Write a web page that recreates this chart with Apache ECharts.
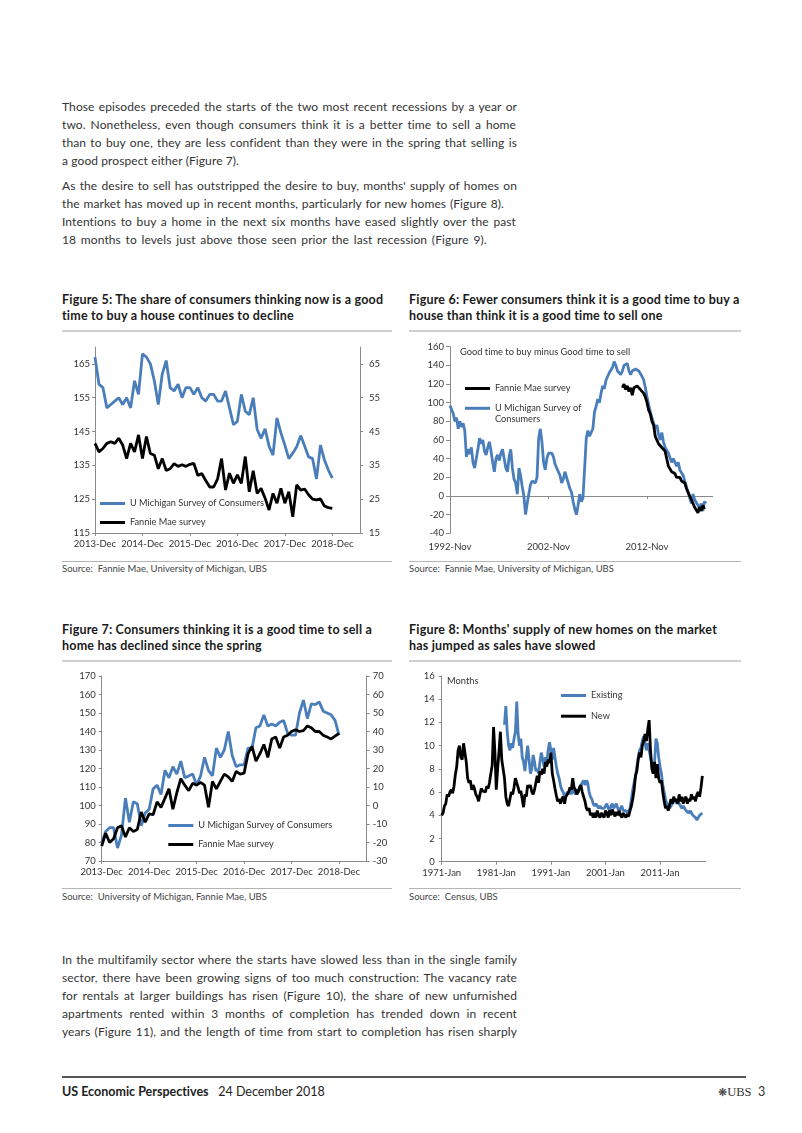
<!DOCTYPE html>
<html><head><meta charset="utf-8">
<script src="https://cdn.jsdelivr.net/npm/echarts@6/dist/echarts.min.js"></script>
<style>
html,body{margin:0;padding:0;background:#fff;}
#page{position:relative;width:802px;height:1133px;overflow:hidden;font-family:Lato,"Open Sans",sans-serif;color:#333;font-variant-ligatures:none;}
.t{position:absolute;white-space:nowrap;}
.body{left:62px;font-size:12px;line-height:18px;height:18px;color:#333;letter-spacing:0.1px;}
.j{text-align:justify;text-align-last:justify;}
.title{font-weight:bold;font-size:12.5px;line-height:16px;color:#1a1a1a;letter-spacing:0.2px;}
.src{font-size:9.5px;line-height:12px;color:#444;white-space:pre;}
.rule{position:absolute;}
.chart{position:absolute;}
</style></head>
<body><div id="page">
<div class="t body j" style="top:98px;width:455px">Those episodes preceded the starts of the two most recent recessions by a year or</div>
<div class="t body j" style="top:116px;width:454px">two. Nonetheless, even though consumers think it is a better time to sell a home</div>
<div class="t body j" style="top:134px;width:455px">than to buy one, they are less confident than they were in the spring that selling is</div>
<div class="t body" style="top:152px">a good prospect either (Figure 7).</div>
<div class="t body j" style="top:177px;width:455px">As the desire to sell has outstripped the desire to buy, months' supply of homes on</div>
<div class="t body j" style="top:195px;width:442px">the market has moved up in recent months, particularly for new homes (Figure 8).</div>
<div class="t body j" style="top:213px;width:454px">Intentions to buy a home in the next six months have eased slightly over the past</div>
<div class="t body" style="top:231px;word-spacing:1.5px">18 months to levels just above those seen prior the last recession (Figure 9).</div>

<div class="t title" style="left:62px;top:292px">Figure 5: The share of consumers thinking now is a good<br>time to buy a house continues to decline</div>
<div class="t title" style="left:409px;top:292px">Figure 6: Fewer consumers think it is a good time to buy a<br>house than think it is a good time to sell one</div>
<div class="rule" style="left:62px;top:330px;width:330px;height:2px;background:#cfcfcf"></div>
<div class="rule" style="left:409px;top:330px;width:332px;height:2px;background:#cfcfcf"></div>
<div class="rule" style="left:62px;top:561px;width:330px;height:1px;background:#b5b5b5"></div>
<div class="rule" style="left:409px;top:561px;width:332px;height:1px;background:#b5b5b5"></div>
<div class="t src" style="left:62px;top:563px">Source:  Fannie Mae, University of Michigan, UBS</div>
<div class="t src" style="left:409px;top:563px">Source:  Fannie Mae, University of Michigan, UBS</div>

<div class="t title" style="left:62px;top:622px">Figure 7: Consumers thinking it is a good time to sell a<br>home has declined since the spring</div>
<div class="t title" style="left:409px;top:622px">Figure 8: Months' supply of new homes on the market<br>has jumped as sales have slowed</div>
<div class="rule" style="left:62px;top:660px;width:330px;height:2px;background:#cfcfcf"></div>
<div class="rule" style="left:409px;top:660px;width:332px;height:2px;background:#cfcfcf"></div>
<div class="rule" style="left:62px;top:888px;width:330px;height:1px;background:#b5b5b5"></div>
<div class="rule" style="left:409px;top:888px;width:332px;height:1px;background:#b5b5b5"></div>
<div class="t src" style="left:62px;top:891px">Source:  University of Michigan, Fannie Mae, UBS</div>
<div class="t src" style="left:409px;top:891px">Source:  Census, UBS</div>

<div class="t body j" style="top:951px;width:455px">In the multifamily sector where the starts have slowed less than in the single family</div>
<div class="t body j" style="top:969px;width:455px">sector, there have been growing signs of too much construction: The vacancy rate</div>
<div class="t body j" style="top:987px;width:455px">for rentals at larger buildings has risen (Figure 10), the share of new unfurnished</div>
<div class="t body j" style="top:1005px;width:455px">apartments rented within 3 months of completion has trended down in recent</div>
<div class="t body j" style="top:1023px;width:455px">years (Figure 11), and the length of time from start to completion has risen sharply</div>

<div class="rule" style="left:62px;top:1076px;width:684px;height:2px;background:#555"></div>
<div class="t" style="left:62px;top:1084px;font-size:12.5px;line-height:16px;color:#222"><b>US Economic Perspectives</b>&nbsp;&nbsp;&nbsp;24 December 2018</div>
<div class="t" style="left:718px;top:1084px;font-size:12.5px;line-height:16px;color:#333"><span style="font-family:'DejaVu Sans';font-size:11px">❋</span><span style="font-family:'Liberation Serif',serif">UBS</span>&nbsp;&nbsp;3</div>

<div id="c5" class="chart" style="left:40px;top:335px;width:360px;height:225px"></div>
<div id="c6" class="chart" style="left:405px;top:335px;width:345px;height:225px"></div>
<div id="c7" class="chart" style="left:40px;top:665px;width:360px;height:222px"></div>
<div id="c8" class="chart" style="left:405px;top:665px;width:345px;height:222px"></div>
</div>
<script>
// ---------- DATA ----------
// Figure 5 (monthly, index 0 = 2013-Dec)
const fig5TickMonths = [0, 12, 24, 36, 48, 60];
const fig5TickLabels = ['2013-Dec', '2014-Dec', '2015-Dec', '2016-Dec', '2017-Dec', '2018-Dec'];
const fig5LeftTicks = [115, 125, 135, 145, 155, 165];
const fig5RightTicks = [15, 25, 35, 45, 55, 65];
const fig5Michigan = [
  167, 159, 158, 152, 153, 154, 155, 153, 155, 152, 160, 156,
  168, 167, 165, 160, 153, 162, 166, 158, 157, 159, 155, 158,
  158, 156, 158, 155, 154, 156, 156, 154, 154, 157, 152, 147,
  148, 156, 151, 150, 155, 145.6, 143, 145.8, 140.7, 138, 149, 144.6,
  141, 137, 138.6, 140.5, 143.8, 140.7, 137.5, 137, 131, 141, 136.6, 133.6,
  131.2
];
const fig5Fannie = [
  41.5, 39, 40, 41.5, 42, 41.5, 43, 41, 37, 41.5, 39, 44,
  37, 43.5, 38.5, 38, 34, 37, 33.5, 34, 35.5, 34.7, 35.2, 34.7,
  35.3, 35.6, 32, 32.6, 30.5, 28.6, 28.6, 31, 37, 27.7, 32.7, 29.7,
  32.2, 29.7, 37.6, 27.2, 33.4, 26.7, 28.2, 25.3, 21.8, 26.7, 23.8, 28.2,
  23.8, 27.2, 19.8, 29.2, 27.7, 28, 26.3, 25, 24.8, 25.1, 23, 22.5,
  22.3
];

// Figure 6 (index = months since 1992-Nov)
const fig6TickMonths = [0, 120, 240];
const fig6TickLabels = ['1992-Nov', '2002-Nov', '2012-Nov'];
const fig6MichiganStart = 0, fig6MichiganStep = 2;
const fig6Michigan = [
  97, 95, 88, 80, 84, 72, 80, 74, 78, 70,
  42, 50, 45, 52, 36, 30, 28, 50, 62, 56,
  60, 48, 44, 52, 58, 48, 36, 26, 40, 44,
  38, 46, 50, 40, 30, 26, 42, 50, 30, 18,
  14, 2, 30, 22, 10, 0, -20, -8, 2, 12,
  16, 18, 14, 20, 62, 72, 58, 36, 28, 40,
  46, 44, 46, 42, 34, 30, 26, 22, 14, 18,
  26, 20, 22, 8, 4, -6, -14, -20, -10, 2,
  -6, -2, 30, 62, 70, 64, 68, 72, 90, 96,
  104, 100, 110, 118, 115, 124, 128, 132, 130, 138,
  144, 140, 134, 136, 130, 134, 140, 138, 142, 134,
  130, 134, 132, 136, 138, 134, 132, 128, 124, 116,
  106, 98, 90, 84, 78, 72, 76, 66, 60, 68,
  58, 52, 54, 46, 44, 36, 40, 38, 32, 36,
  28, 26, 22, 16, 10, 4, -2, -8, 2, -4,
  -2, -10, -14, -8, -16, -6, -8
];
const fig6FannieStart = 210, fig6FannieStep = 2;
const fig6Fannie = [
  116, 120, 114, 118, 112, 116, 108, 116, 114, 118,
  116, 114, 116, 110, 106, 100, 92, 88, 80, 76,
  64, 60, 56, 58, 52, 50, 48, 40, 32, 30,
  26, 28, 24, 20, 18, 20, 16, 18, 14, 8,
  4, 0, -4, -8, -12, -14, -18, -12, -16, -10,
  -14
];

// Figure 7 (monthly, index 0 = 2013-Dec)
const fig7Michigan = [
  80, 86, 88, 88, 77, 84, 104, 91, 102, 101, 89, 96,
  98, 109, 111, 106, 119, 115, 121, 117, 124, 115, 116, 117,
  111, 116, 126, 119, 116, 131, 126, 130, 140, 127, 121, 122,
  122, 131, 131, 142, 143, 149, 143, 144, 143, 145, 146, 139,
  138, 138, 150, 157, 147, 155, 154.5, 156, 151, 150, 149, 146,
  138
];
const fig7Fannie = [
  -22, -15, -20, -18, -12, -11, -17, -12, -14, -13, -3.5, -9,
  -4.5, -5, 2, -1, 4, 9, -2, 7, 14.5, 11, 8, 12,
  11, 12.5, 11, -1, 13, 9, 13, 17, 15.5, 13, 18.5, 17,
  17.5, 28, 32, 24, 28, 33, 26, 36, 37, 31, 37, 38,
  40, 41, 40, 40.5, 43, 42, 40, 40, 38, 37, 36, 37.5,
  39
];
const fig7LeftTicks = [70, 80, 90, 100, 110, 120, 130, 140, 150, 160, 170];
const fig7RightTicks = [-30, -20, -10, 0, 10, 20, 30, 40, 50, 60, 70];

// Figure 8 (index = months since 1971-Jan, quarterly readings)
const fig8TickMonths = [0, 120, 240, 360, 480];
const fig8TickLabels = ['1971-Jan', '1981-Jan', '1991-Jan', '2001-Jan', '2011-Jan'];
const fig8NewStart = 0, fig8NewStep = 3;
const fig8New = [
  4.0, 4.2, 4.8, 5.0, 5.8, 5.6, 6.0, 6.2,
  5.9, 6.5, 7.5, 8.2, 9.6, 10.0, 9.0, 8.8,
  10.2, 10.3, 8.6, 7.2, 6.8, 7.0, 6.2, 6.6,
  6.3, 5.8, 5.6, 5.2, 5.8, 6.3, 6.1, 6.2,
  6.0, 6.5, 6.3, 6.8, 7.6, 8.3, 11.6, 9.4,
  6.2, 8.0, 9.5, 11.2, 8.8, 8.0, 7.2, 5.6,
  5.0, 4.8, 5.4, 6.0, 5.8, 6.4, 7.2, 6.8,
  6.4, 5.9, 6.1, 5.4, 4.7, 5.8, 5.6, 6.6,
  6.4, 6.6, 6.0, 5.8, 6.2, 6.8, 7.4, 6.8,
  7.8, 7.5, 8.0, 7.6, 8.6, 8.2, 8.8, 8.5,
  9.4, 7.6, 7.0, 6.3, 5.7, 5.2, 5.4, 5.0,
  5.4, 5.6, 5.0, 5.6, 5.8, 6.0, 6.4, 6.2,
  7.2, 6.4, 6.2, 5.8, 6.0, 6.4, 6.6, 6.0,
  5.6, 5.2, 4.6, 4.4, 4.6, 4.0, 4.2, 3.8,
  4.2, 3.8, 4.4, 4.0, 3.8, 4.2, 4.0, 3.8,
  4.4, 4.2, 3.8, 4.4, 4.0, 4.5, 4.2, 3.9,
  4.3, 4.0, 4.4, 4.0, 3.8, 4.2, 4.0, 3.8,
  4.1, 3.9, 4.4, 4.8, 5.4, 6.2, 7.4, 7.8,
  8.8, 9.4, 9.0, 10.0, 10.4, 11.0, 10.4, 11.4,
  12.2, 9.6, 8.0, 7.6, 8.6, 7.2, 8.4, 7.2,
  6.8, 7.0, 6.0, 5.2, 4.6, 4.8, 4.4, 4.9,
  5.4, 5.0, 5.6, 5.2, 5.4, 5.0, 5.8, 5.2,
  5.6, 5.0, 5.4, 5.6, 5.0, 5.4, 5.2, 5.8,
  5.4, 5.6, 5.2, 5.8, 6.0, 5.6, 6.4, 7.4
];
const fig8ExistingStart = 138, fig8ExistingStep = 3;
const fig8Existing = [
  11.8, 13.4, 11.2, 10.0, 9.6, 10.2, 9.8, 10.6,
  11.2, 13.8, 11.0, 10.0, 10.6, 9.0, 8.6, 7.8,
  9.0, 10.0, 8.8, 7.6, 8.0, 9.2, 8.6, 7.8,
  8.0, 7.6, 8.6, 9.4, 8.8, 8.2, 9.0, 8.6,
  9.6, 10.3, 9.6, 8.8, 9.8, 9.0, 8.2, 7.6,
  7.2, 6.6, 6.2, 6.0, 5.6, 5.8, 6.0, 5.8,
  6.2, 5.8, 6.4, 6.0, 5.8, 6.2, 6.0, 6.4,
  6.6, 6.8, 7.0, 6.6, 7.0, 6.8, 6.0, 5.6,
  5.4, 5.0, 4.8, 5.0, 4.8, 4.6, 4.8, 4.6,
  4.5, 4.6, 4.8, 5.0, 4.6, 4.4, 4.8, 5.0,
  4.6, 4.8, 5.0, 4.6, 4.4, 4.6, 4.8, 4.4,
  4.3, 4.4, 4.2, 4.4, 4.6, 5.4, 6.2, 6.8,
  7.4, 8.2, 9.0, 9.6, 9.8, 10.4, 10.8, 10.2,
  9.6, 10.2, 9.6, 9.0, 8.4, 7.6, 8.6, 10.6,
  10.2, 9.0, 8.2, 7.6, 6.6, 6.0, 5.4, 5.0,
  4.8, 4.6, 4.8, 5.0, 5.2, 5.4, 5.0, 5.2,
  5.0, 4.8, 4.6, 4.8, 4.6, 4.4, 4.5, 4.2,
  4.4, 4.2, 4.0, 4.0, 3.8, 3.6, 3.8, 4.0,
  4.1, 4.2
];
const fig8YTicks = [0, 2, 4, 6, 8, 10, 12, 14, 16];

// ---------- STYLE ----------
const FONT = 'Lato, "Open Sans", sans-serif';
const AX = '#8a8a8a';
const TXT = '#333';
const BLUE = '#4A7EBB';
const BLACK = '#000000';
const LBL = { color: TXT, fontSize: 9.5, fontFamily: FONT };
const LEG = { color: TXT, fontSize: 9.2, fontFamily: FONT };

function pairs(arr, start, step) { return arr.map((v, i) => [start + i * step, v]); }
function lineSeries(name, data, color, yIdx) {
  return { type: 'line', name: name, data: data, yAxisIndex: yIdx || 0, symbol: 'none', showSymbol: false,
    color: color, lineStyle: { width: 2.8, color: color }, itemStyle: { color: color }, silent: true, z: 3 };
}
function legendItem(name, left, top, extra) {
  return Object.assign({ data: [name], left: left, top: top, orient: 'vertical', icon: 'rect', itemWidth: 25, itemHeight: 3,
    padding: 0, itemGap: 0, selectedMode: false, textStyle: Object.assign({}, LEG) }, extra || {});
}
function xValueAxis(max, ticks, labels, extra, margin) {
  return Object.assign({ type: 'value', min: 0, max: max, position: 'bottom',
    axisLine: { show: true, onZero: false, lineStyle: { color: AX, width: 1 } },
    axisTick: { show: true, customValues: ticks, length: 3, lineStyle: { color: AX } },
    axisLabel: Object.assign({ customValues: ticks, margin: margin || 6, formatter: v => labels[ticks.indexOf(v)] || '' }, LBL),
    splitLine: { show: false } }, extra || {});
}
function yValueAxis(min, max, ticks, pos, margin) {
  return { type: 'value', min: min, max: max, position: pos,
    axisLine: { show: true, onZero: false, lineStyle: { color: AX, width: 1 } },
    axisTick: { show: true, customValues: ticks, length: 3, lineStyle: { color: AX } },
    axisLabel: Object.assign({ customValues: ticks, margin: margin }, LBL),
    splitLine: { show: false } };
}

// ---------- FIGURE 5 ----------
const c5 = echarts.init(document.getElementById('c5'), null, { renderer: 'canvas' });
c5.setOption({
  animation: false,
  grid: { left: 55, top: 12, width: 265, height: 186 },
  xAxis: xValueAxis(67, fig5TickMonths, fig5TickLabels),
  yAxis: [yValueAxis(115, 170, fig5LeftTicks, 'left', 5), yValueAxis(15, 70, fig5RightTicks, 'right', 9)],
  legend: [legendItem('U Michigan Survey of Consumers', 60, 164), legendItem('Fannie Mae survey', 60, 183)],
  series: [
    lineSeries('U Michigan Survey of Consumers', pairs(fig5Michigan, 0, 1), BLUE, 0),
    lineSeries('Fannie Mae survey', pairs(fig5Fannie, 0, 1), BLACK, 1)
  ]
});

// ---------- FIGURE 6 ----------
const c6 = echarts.init(document.getElementById('c6'), null, { renderer: 'canvas' });
c6.setOption({
  animation: false,
  grid: { left: 45, top: 11.7, width: 262.7, height: 186.6 },
  xAxis: [
    xValueAxis(320, fig6TickMonths, fig6TickLabels, { axisLine: { show: false, onZero: false }, axisTick: { show: false } }, 9),
    { type: 'value', min: 0, max: 320, position: 'bottom',
      axisLine: { show: true, onZero: true, lineStyle: { color: AX, width: 1 } },
      axisTick: { show: true, customValues: fig6TickMonths, length: 3, lineStyle: { color: AX } },
      axisLabel: { show: false }, splitLine: { show: false } }
  ],
  yAxis: { type: 'value', min: -40, max: 160, interval: 20, position: 'left',
    axisLine: { show: true, onZero: false, lineStyle: { color: AX, width: 1 } },
    axisTick: { show: true, length: 4, lineStyle: { color: AX } },
    axisLabel: Object.assign({ margin: 6 }, LBL), splitLine: { show: false } },
  legend: [
    legendItem('Fannie Mae survey', 60, 49),
    legendItem('U Michigan Survey of Consumers', 60, 56.8, {
      formatter: () => '\nU Michigan Survey of\nConsumers',
      textStyle: Object.assign({}, LEG, { lineHeight: 11 }) })
  ],
  graphic: [{ type: 'text', left: 55, top: 12, silent: true,
    style: { text: 'Good time to buy minus Good time to sell', fill: TXT, font: '9.3px ' + FONT } }],
  series: [
    lineSeries('U Michigan Survey of Consumers', pairs(fig6Michigan, fig6MichiganStart, fig6MichiganStep), BLUE, 0),
    lineSeries('Fannie Mae survey', pairs(fig6Fannie, fig6FannieStart, fig6FannieStep), BLACK, 0)
  ]
});

// ---------- FIGURE 7 ----------
const c7 = echarts.init(document.getElementById('c7'), null, { renderer: 'canvas' });
c7.setOption({
  animation: false,
  grid: { left: 61.7, top: 11, width: 265, height: 185 },
  xAxis: xValueAxis(67, fig5TickMonths, fig5TickLabels),
  yAxis: [yValueAxis(70, 170, fig7LeftTicks, 'left', 6), yValueAxis(-30, 70, fig7RightTicks, 'right', 6)],
  legend: [legendItem('U Michigan Survey of Consumers', 128.3, 156), legendItem('Fannie Mae survey', 128.3, 175)],
  series: [
    lineSeries('U Michigan Survey of Consumers', pairs(fig7Michigan, 0, 1), BLUE, 0),
    lineSeries('Fannie Mae survey', pairs(fig7Fannie, 0, 1), BLACK, 1)
  ]
});

// ---------- FIGURE 8 ----------
const c8 = echarts.init(document.getElementById('c8'), null, { renderer: 'canvas' });
c8.setOption({
  animation: false,
  grid: { left: 36.7, top: 11, width: 264.3, height: 185.7 },
  xAxis: xValueAxis(581, fig8TickMonths, fig8TickLabels),
  yAxis: yValueAxis(0, 16, fig8YTicks, 'left', 7),
  legend: [legendItem('Existing', 156, 26), legendItem('New', 156, 46.7)],
  graphic: [{ type: 'text', left: 42, top: 11, silent: true,
    style: { text: 'Months', fill: TXT, font: '9.3px ' + FONT } }],
  series: [
    lineSeries('Existing', pairs(fig8Existing, fig8ExistingStart, fig8ExistingStep), BLUE, 0),
    lineSeries('New', pairs(fig8New, fig8NewStart, fig8NewStep), BLACK, 0)
  ]
});
</script>
</body></html>
